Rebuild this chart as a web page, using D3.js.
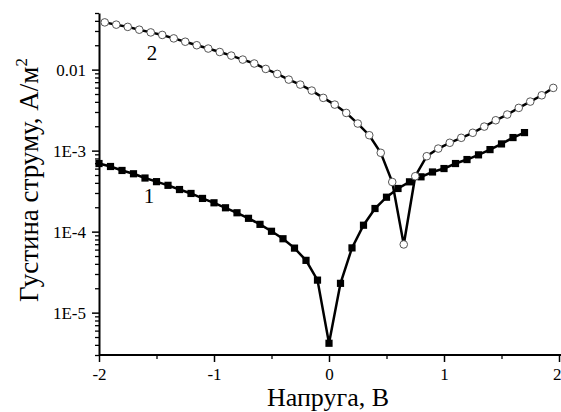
<!DOCTYPE html>
<html>
<head>
<meta charset="utf-8">
<script src="https://cdn.jsdelivr.net/npm/d3@7"></script>
<style>
  body { margin: 0; background: #fff; }
  svg { display: block; }
</style>
</head>
<body>
<script>

// curve 1 (filled squares)
let voltage1 = [-2.0,-1.9,-1.8,-1.7,-1.6,-1.5,-1.4,-1.3,-1.2,-1.1,
	-1.0,-0.9,-0.8,-0.7,-0.6,-0.5,-0.4,-0.3,-0.2,-0.1,
	0.0,
	0.1,0.2,0.3,0.4,0.5,0.6,0.7,0.8,0.9,1.0,
	1.1,1.2,1.3,1.4,1.5,1.6,1.7];
let current1 = [6.93e-4,6.37e-4,5.69e-4,5.18e-4,4.59e-4,4.14e-4,3.73e-4,3.31e-4,2.96e-4,2.57e-4,
	2.27e-4,1.97e-4,1.71e-4,1.46e-4,1.23e-4,1.01e-4,8.17e-5,6.26e-5,4.42e-5,2.52e-5,
	4.19e-6,
	2.30e-5,6.3e-5,1.20e-4,1.93e-4,2.66e-4,3.41e-4,4.12e-4,4.75e-4,5.45e-4,6.01e-4,
	6.93e-4,7.76e-4,8.87e-4,1.03e-3,1.21e-3,1.45e-3,1.67e-3];

// curve 2 (open circles)
let voltage2 = [-1.95,-1.85,-1.75,-1.65,-1.55,-1.45,-1.35,-1.25,-1.15,-1.05,
	-0.95,-0.85,-0.75,-0.65,-0.55,-0.45,-0.35,-0.25,-0.15,-0.05,
	0.05,0.15,0.25,0.35,0.45,0.55,0.65,0.75,0.85,0.95,
	1.05,1.15,1.25,1.35,1.45,1.55,1.65,1.75,1.85,1.95];
let current2 = [0.0383,0.0359,0.0337,0.0311,0.0288,0.0268,0.0243,0.0221,0.0200,0.0182,
	0.0165,0.0149,0.0133,0.0119,0.0102,8.85e-3,7.53e-3,6.53e-3,5.51e-3,4.48e-3,
	3.70e-3,2.92e-3,2.16e-3,1.55e-3,9.40e-4,4.10e-4,6.95e-5,4.83e-4,8.53e-4,1.06e-3,
	1.25e-3,1.44e-3,1.66e-3,1.98e-3,2.37e-3,2.79e-3,3.37e-3,4.03e-3,4.82e-3,5.95e-3];

let xTicks = [-2,-1,0,1,2];
let xMinorTicks = [-1.5,-0.5,0.5,1.5];
let yTicks = [1e-5,1e-4,1e-3,1e-2];
let yTickLabels = ["1E-5","1E-4","1E-3","0.01"];

let font = "'Liberation Serif', 'Times New Roman', serif";

let svg = d3.select("body").append("svg")
	.attr("width", 561)
	.attr("height", 412);

let x = d3.scaleLinear()
	.domain([-2, 2])
	.range([99, 559]);

let y = d3.scaleLog()
	.domain([3e-6, 0.05])
	.range([355, 13]);

// minor ticks on the log axis
let yMinor = y.ticks().filter(t => yTicks.indexOf(t) < 0);

svg.append("g")
	.attr("transform", "translate(99,0)")
	.call(d3.axisLeft(y).tickValues(yMinor).tickSize(4).tickSizeOuter(0).tickFormat(""))
	.call(g => g.select(".domain").remove())
	.selectAll("line").attr("stroke-width", 1.3);

svg.append("g")
	.attr("transform", "translate(0,355)")
	.call(d3.axisBottom(x).tickValues(xMinorTicks).tickSize(4).tickSizeOuter(0).tickFormat(""))
	.call(g => g.select(".domain").remove())
	.selectAll("line").attr("stroke-width", 1.3);

// major ticks + labels
let yAxis = svg.append("g")
	.attr("transform", "translate(99,0)")
	.call(d3.axisLeft(y).tickValues(yTicks).tickSize(7).tickPadding(6).tickSizeOuter(0)
		.tickFormat((d, i) => yTickLabels[i]));
yAxis.select(".domain").attr("stroke-width", 2);
yAxis.selectAll("line").attr("stroke-width", 1.5);
yAxis.selectAll("text").attr("font-family", font).attr("font-size", 17).attr("fill", "#000");

let xAxis = svg.append("g")
	.attr("transform", "translate(0,355)")
	.call(d3.axisBottom(x).tickValues(xTicks).tickSize(7).tickPadding(6).tickSizeOuter(0)
		.tickFormat(d3.format("d")));
xAxis.select(".domain").attr("d", "M99,0H561").attr("stroke-width", 2);
xAxis.selectAll("line").attr("stroke-width", 1.5);
xAxis.selectAll("text").attr("font-family", font).attr("font-size", 17).attr("fill", "#000")
	.text(d => d < 0 ? "-" + Math.abs(d) : d);
// last label sits at the right edge; keep it inside the page
xAxis.selectAll("text").filter(d => d === 2)
	.attr("text-anchor", "end")
	.attr("dx", 2);

let line = d3.line()
	.x(d => x(d[0]))
	.y(d => y(d[1]));

let data1 = voltage1.map((v, i) => [v, current1[i]]);
let data2 = voltage2.map((v, i) => [v, current2[i]]);

//draw curve 1
svg.append("path")
	.datum(data1)
	.attr("d", line)
	.attr("fill", "none")
	.attr("stroke", "#000")
	.attr("stroke-width", 2.5);

svg.selectAll(".sq")
	.data(data1)
	.enter()
	.append("rect")
	.attr("class", "sq")
	.attr("x", d => x(d[0]) - 3.6)
	.attr("y", d => y(d[1]) - 3.6)
	.attr("width", 7.2)
	.attr("height", 7.2)
	.attr("fill", "#000");

//draw curve 2
svg.append("path")
	.datum(data2)
	.attr("d", line)
	.attr("fill", "none")
	.attr("stroke", "#000")
	.attr("stroke-width", 2.5);

svg.selectAll(".circ")
	.data(data2)
	.enter()
	.append("circle")
	.attr("class", "circ")
	.attr("cx", d => x(d[0]))
	.attr("cy", d => y(d[1]))
	.attr("r", 3.8)
	.attr("fill", "#fff")
	.attr("stroke", "#555")
	.attr("stroke-width", 1);

// curve numbers
svg.append("text")
	.attr("x", 152)
	.attr("y", 60)
	.attr("text-anchor", "middle")
	.attr("font-family", font)
	.attr("font-size", 21)
	.text("2");

svg.append("text")
	.attr("x", 149)
	.attr("y", 203)
	.attr("text-anchor", "middle")
	.attr("font-family", font)
	.attr("font-size", 21)
	.text("1");

// axis titles
svg.append("text")
	.attr("x", 328)
	.attr("y", 406)
	.attr("text-anchor", "middle")
	.attr("font-family", font)
	.attr("font-size", 26)
	.text("Напруга, В");

let yTitle = svg.append("text")
	.attr("transform", "translate(38,180) rotate(-90)")
	.attr("text-anchor", "middle")
	.attr("font-family", font)
	.attr("font-size", 27);
yTitle.append("tspan").text("Густина струму, А/м");
yTitle.append("tspan").attr("font-size", 17).attr("dy", -11).text("2");

</script>
</body>
</html>
